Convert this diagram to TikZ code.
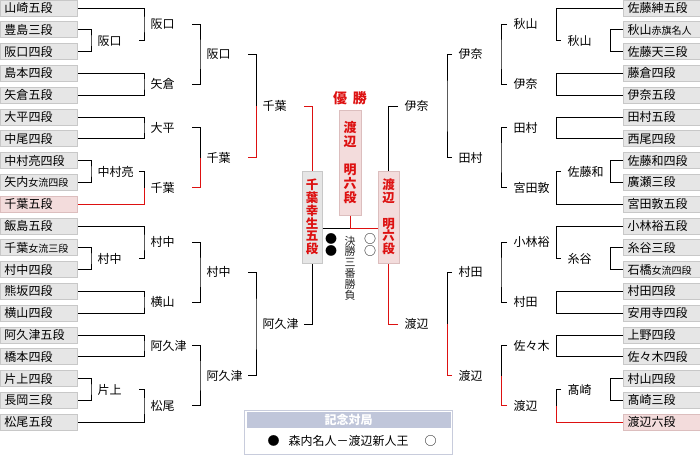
\documentclass[tikz,border=0pt]{standalone}
\usepackage{fontspec}
\setmainfont{Noto Sans CJK JP}
\usetikzlibrary{calc}
\definecolor{boxgray}{RGB}{230,230,230}
\definecolor{boxline}{RGB}{200,200,200}
\definecolor{winfill}{RGB}{243,220,220}
\definecolor{winline}{RGB}{220,190,190}
\definecolor{winred}{RGB}{221,17,17}
\definecolor{memohead}{RGB}{192,198,218}
\definecolor{memoline}{RGB}{200,204,220}
\newcommand{\subrank}[1]{{\fontsize{10}{10}\selectfont #1}}

\begin{document}
\begin{tikzpicture}[
    x=1pt, y=-1pt, line width=1pt,
    player/.style={draw=boxline, fill=boxgray, anchor=west, text width=69pt, inner xsep=4pt, inner ysep=0pt, minimum height=16pt, align=left, font=\fontsize{12}{12}\selectfont},
    champ/.style={player, fill=winfill, draw=winline},
    wl/.style={anchor=west, inner sep=0pt, text width=41pt, align=left, font=\fontsize{12}{12}\selectfont},
    wr/.style={wl, text width=42pt},
    finalist/.style={draw=boxline, fill=boxgray, inner sep=0pt, minimum width=20pt, minimum height=92pt, align=center, text=winred, font=\bfseries\fontsize{12.5}{12.7}\selectfont},
    won/.style={draw=winred},
]
\useasboundingbox (0,0) rectangle (700,455);

% Left players
\node[player] (L0) at (0,8) {山崎五段};
\node[player] (L1) at (0,29.8) {豊島三段};
\node[player] (L2) at (0,51.6) {阪口四段};
\node[player] (L3) at (0,73.4) {島本四段};
\node[player] (L4) at (0,95.2) {矢倉五段};
\node[player] (L5) at (0,117) {大平四段};
\node[player] (L6) at (0,138.8) {中尾四段};
\node[player] (L7) at (0,160.6) {中村亮四段};
\node[player] (L8) at (0,182.4) {矢内\subrank{女流四段}};
\node[champ] (L9) at (0,204.2) {千葉五段};
\node[player] (L10) at (0,226) {飯島五段};
\node[player] (L11) at (0,247.8) {千葉\subrank{女流三段}};
\node[player] (L12) at (0,269.6) {村中四段};
\node[player] (L13) at (0,291.4) {熊坂四段};
\node[player] (L14) at (0,313.2) {横山四段};
\node[player] (L15) at (0,335) {阿久津五段};
\node[player] (L16) at (0,356.8) {橋本四段};
\node[player] (L17) at (0,378.6) {片上四段};
\node[player] (L18) at (0,400.4) {長岡三段};
\node[player] (L19) at (0,422.2) {松尾五段};

% Right players
\node[player] (R0) at (623,8) {佐藤紳五段};
\node[player] (R1) at (623,29.8) {秋山\subrank{赤旗名人}};
\node[player] (R2) at (623,51.6) {佐藤天三段};
\node[player] (R3) at (623,73.4) {藤倉四段};
\node[player] (R4) at (623,95.2) {伊奈五段};
\node[player] (R5) at (623,117) {田村五段};
\node[player] (R6) at (623,138.8) {西尾四段};
\node[player] (R7) at (623,160.6) {佐藤和四段};
\node[player] (R8) at (623,182.4) {廣瀬三段};
\node[player] (R9) at (623,204.2) {宮田敦五段};
\node[player] (R10) at (623,226) {小林裕五段};
\node[player] (R11) at (623,247.8) {糸谷三段};
\node[player] (R12) at (623,269.6) {石橋\subrank{女流四段}};
\node[player] (R13) at (623,291.4) {村田四段};
\node[player] (R14) at (623,313.2) {安用寺四段};
\node[player] (R15) at (623,335) {上野四段};
\node[player] (R16) at (623,356.8) {佐々木四段};
\node[player] (R17) at (623,378.6) {村山四段};
\node[player] (R18) at (623,400.4) {髙崎三段};
\node[champ] (R19) at (623,422.2) {渡辺六段};

% Left winners
\node[wl] (a1) at (97,40.7) {阪口};
\node[wl] (b1) at (150,24.35) {阪口};
\node[wl] (b2) at (150,84.3) {矢倉};
\node[wl] (b3) at (150,127.9) {大平};
\node[wl] (a4) at (97,171.5) {中村亮};
\node[wl] (b4) at (150,187.85) {千葉};
\node[wl] (c1) at (206,54.3) {阪口};
\node[wl] (c2) at (206,157.9) {千葉};
\node[wl] (d1) at (262,106.1) {千葉};
\node[wl] (a5) at (97,258.7) {村中};
\node[wl] (b5) at (150,242.35) {村中};
\node[wl] (b6) at (150,302.3) {横山};
\node[wl] (b7) at (150,345.9) {阿久津};
\node[wl] (a8) at (97,389.5) {片上};
\node[wl] (b8) at (150,405.85) {松尾};
\node[wl] (c3) at (206,272.3) {村中};
\node[wl] (c4) at (206,375.9) {阿久津};
\node[wl] (d2) at (262,324.1) {阿久津};

% Right winners
\node[wr] (ra1) at (567,40.7) {秋山};
\node[wr] (rb1) at (513,24.35) {秋山};
\node[wr] (rb2) at (513,84.3) {伊奈};
\node[wr] (rb3) at (513,127.9) {田村};
\node[wr] (ra4) at (567,171.5) {佐藤和};
\node[wr] (rb4) at (513,187.85) {宮田敦};
\node[wr] (rc1) at (458,54.3) {伊奈};
\node[wr] (rc2) at (458,157.9) {田村};
\node[wr] (rd1) at (404,106.1) {伊奈};
\node[wr] (ra5) at (567,258.7) {糸谷};
\node[wr] (rb5) at (513,242.35) {小林裕};
\node[wr] (rb6) at (513,302.3) {村田};
\node[wr] (rb7) at (513,345.9) {佐々木};
\node[wr] (ra8) at (567,389.5) {髙崎};
\node[wr] (rb8) at (513,405.85) {渡辺};
\node[wr] (rc3) at (458,272.3) {村田};
\node[wr] (rc4) at (458,375.9) {渡辺};
\node[wr] (rd2) at (404,324.1) {渡辺};

% Finalists
\node[finalist] (FL) at (312,217) {千\\葉\\幸\\生\\五\\段};
\node[finalist, fill=winfill, draw=winline, minimum width=21pt] (FR) at (388.5,217) {渡\\辺\\[12.7pt]明\\六\\段};
\node[finalist, fill=winfill, draw=winline, minimum width=22pt, minimum height=105pt, font=\bfseries\fontsize{13}{14}\selectfont] (FC) at (350,162.5) {渡\\辺\\[14pt]明\\六\\段};
\node[text=winred, font=\bfseries\fontsize{14}{14}\selectfont] (champ) at (350,98) {優\hspace{6pt}勝};
\coordinate (fin) at (350,228);

% Final series
\node[inner sep=0pt, align=center, font=\fontsize{12}{10}\selectfont] (blk) at (331,245) {●\\●};
\node[inner sep=0pt, align=center, text=black!85, font=\fontsize{11}{10.8}\selectfont] (series) at (350,268) {決\\勝\\三\\番\\勝\\負};
\node[inner sep=0pt, align=center, font=\fontsize{12}{10}\selectfont] (wht) at (370,245) {○\\○};

% Left brackets
\draw (L1.east) -| ([xshift=-6pt]a1.west) |- (L2.east);
\draw (L0.east) -| ([xshift=-6pt]b1.west) |- (a1.east);
\draw (L3.east) -| ([xshift=-6pt]b2.west) |- (L4.east);
\draw (L5.east) -| ([xshift=-6pt]b3.west) |- (L6.east);
\draw (L7.east) -| ([xshift=-6pt]a4.west) |- (L8.east);
\draw (a4.east) -| ([xshift=-6pt]b4.west);
\draw[won] (L9.east) -| ([xshift=-6pt]b4.west);
\draw (b1.east) -| ([xshift=-6pt]c1.west) |- (b2.east);
\draw (b3.east) -| ([xshift=-6pt]c2.west);
\draw[won] (b4.east) -| ([xshift=-6pt]c2.west);
\draw (c1.east) -| ([xshift=-6pt]d1.west);
\draw[won] (c2.east) -| ([xshift=-6pt]d1.west);
\draw (L11.east) -| ([xshift=-6pt]a5.west) |- (L12.east);
\draw (L10.east) -| ([xshift=-6pt]b5.west) |- (a5.east);
\draw (L13.east) -| ([xshift=-6pt]b6.west) |- (L14.east);
\draw (L15.east) -| ([xshift=-6pt]b7.west) |- (L16.east);
\draw (L17.east) -| ([xshift=-6pt]a8.west) |- (L18.east);
\draw (a8.east) -| ([xshift=-6pt]b8.west) |- (L19.east);
\draw (b5.east) -| ([xshift=-6pt]c3.west) |- (b6.east);
\draw (b7.east) -| ([xshift=-6pt]c4.west) |- (b8.east);
\draw (c3.east) -| ([xshift=-6pt]d2.west) |- (c4.east);

% Right brackets
\draw (R1.west) -| (ra1.east) |- (R2.west);
\draw (R0.west) -| (rb1.east) |- ([xshift=-6pt]ra1.west);
\draw (R3.west) -| (rb2.east) |- (R4.west);
\draw (R5.west) -| (rb3.east) |- (R6.west);
\draw (R7.west) -| (ra4.east) |- (R8.west);
\draw ([xshift=-6pt]ra4.west) -| (rb4.east) |- (R9.west);
\draw ([xshift=-6pt]rb1.west) -| (rc1.east) |- ([xshift=-6pt]rb2.west);
\draw ([xshift=-6pt]rb3.west) -| (rc2.east) |- ([xshift=-6pt]rb4.west);
\draw ([xshift=-6pt]rc1.west) -| (rd1.east) |- ([xshift=-6pt]rc2.west);
\draw (R11.west) -| (ra5.east) |- (R12.west);
\draw (R10.west) -| (rb5.east) |- ([xshift=-6pt]ra5.west);
\draw (R13.west) -| (rb6.east) |- (R14.west);
\draw (R15.west) -| (rb7.east) |- (R16.west);
\draw (R17.west) -| (ra8.east) |- (R18.west);
\draw ([xshift=-6pt]ra8.west) -| (rb8.east);
\draw[won] (R19.west) -| (rb8.east);
\draw ([xshift=-6pt]rb5.west) -| (rc3.east) |- ([xshift=-6pt]rb6.west);
\draw ([xshift=-6pt]rb7.west) -| (rc4.east);
\draw[won] ([xshift=-6pt]rb8.west) -| (rc4.east);
\draw ([xshift=-6pt]rc3.west) -| (rd2.east);
\draw[won] ([xshift=-6pt]rc4.west) -| (rd2.east);

% Semi finals and final
\draw[won] (d1.east) -| (FL.north);
\draw (d2.east) -| (FL.south);
\draw ([xshift=-6pt]rd1.west) -| (FR.north);
\draw[won] ([xshift=-6pt]rd2.west) -| (FR.south);
\draw (FL.east |- fin) -- (fin);
\draw[won] (FC.south) -- (fin) -- (FR.west |- fin);

% Memorial game
\node[draw=memoline, line width=1.5pt, minimum width=208pt, minimum height=44pt, inner sep=0pt] (memo) at (348.5,432.5) {};
\node[fill=memohead, minimum width=204pt, minimum height=16pt, inner sep=0pt, anchor=north, text=white, font=\bfseries\fontsize{12}{12}\selectfont] (memohd) at ([yshift=-2pt]memo.north) {記念対局};
\node[inner sep=0pt, font=\fontsize{12}{12}\selectfont] (memotx) at (352,441) {●\hspace{9pt}森内名人－渡辺新人王\hspace{16pt}○};

\end{tikzpicture}
\end{document}
